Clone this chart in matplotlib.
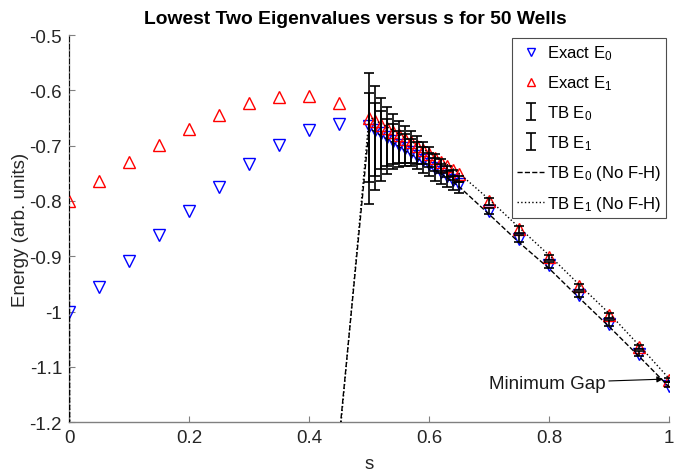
import matplotlib
matplotlib.use('Agg')
from matplotlib import pyplot as plt
import numpy as np

plt.rcParams['font.family'] = ['Liberation Sans', 'DejaVu Sans']
plt.rcParams['mathtext.fontset'] = 'custom'
plt.rcParams['mathtext.rm'] = 'Liberation Sans'
plt.rcParams['mathtext.default'] = 'regular'
plt.rcParams['axes.unicode_minus'] = False

# s grid: coarse, dense near 0.5-0.65, coarse again
s = [0.00, 0.05, 0.10, 0.15, 0.20, 0.25, 0.30, 0.35, 0.40, 0.45,
     0.50, 0.51, 0.52, 0.53, 0.54, 0.55, 0.56, 0.57, 0.58, 0.59,
     0.60, 0.61, 0.62, 0.63, 0.64, 0.65,
     0.70, 0.75, 0.80, 0.85, 0.90, 0.95, 1.00]

exact_e0 = [-1.000, -0.955, -0.908, -0.862, -0.818, -0.774, -0.733, -0.698, -0.672, -0.660,
            -0.665, -0.671, -0.678, -0.684, -0.691, -0.698, -0.705, -0.712, -0.719, -0.726,
            -0.733, -0.740, -0.747, -0.754, -0.762, -0.770,
            -0.818, -0.869, -0.916, -0.970, -1.022, -1.077, -1.134]
exact_e1 = [-0.800, -0.764, -0.730, -0.699, -0.669, -0.644, -0.623, -0.612, -0.611, -0.622,
            -0.650, -0.656, -0.662, -0.668, -0.675, -0.681, -0.688, -0.694, -0.701, -0.708,
            -0.715, -0.722, -0.729, -0.736, -0.744, -0.752,
            -0.800, -0.851, -0.901, -0.954, -1.006, -1.064, -1.124]

# tight-binding results (only s >= 0.5)
s_tb = s[10:]
tb_e0 = [-0.705, -0.701, -0.700, -0.702, -0.702, -0.706, -0.708, -0.712, -0.718, -0.726,
         -0.734, -0.743, -0.751, -0.760, -0.768, -0.776,
         -0.818, -0.868, -0.916, -0.969, -1.021, -1.076, -1.132]
tb_e0_err = [0.100, 0.079, 0.063, 0.050, 0.041, 0.033, 0.029, 0.024, 0.024, 0.023,
             0.021, 0.020, 0.018, 0.015, 0.013, 0.010,
             0.006, 0.006, 0.005, 0.005, 0.005, 0.004, 0.004]
tb_e1 = [-0.667, -0.674, -0.678, -0.684, -0.688, -0.693, -0.698, -0.702, -0.708, -0.713,
         -0.720, -0.730, -0.737, -0.746, -0.753, -0.760,
         -0.801, -0.852, -0.902, -0.955, -1.007, -1.064, -1.124]
tb_e1_err = [0.098, 0.081, 0.065, 0.053, 0.045, 0.038, 0.033, 0.029, 0.025, 0.020,
             0.018, 0.015, 0.013, 0.010, 0.009, 0.006,
             0.006, 0.006, 0.005, 0.005, 0.005, 0.004, 0.004]

# tight-binding without F-H correction (blows up for s < 0.5)
nofh_e0 = [-0.45, -40.0, -25.0, -15.0, -9.0, -6.0, -4.0, -2.6, -1.8, -1.23,
           -0.669, -0.675, -0.682, -0.688, -0.695, -0.702, -0.709, -0.716, -0.723, -0.730,
           -0.737, -0.744, -0.751, -0.758, -0.766, -0.774,
           -0.824, -0.875, -0.922, -0.975, -1.027, -1.081, -1.136]
nofh_e1 = [-0.45, -42.0, -26.0, -16.0, -9.5, -6.2, -4.1, -2.7, -1.85, -1.24,
           -0.648, -0.654, -0.660, -0.666, -0.673, -0.679, -0.686, -0.692, -0.699, -0.706,
           -0.713, -0.720, -0.727, -0.734, -0.742, -0.750,
           -0.797, -0.848, -0.898, -0.951, -1.003, -1.061, -1.121]

fig = plt.figure(figsize=(6.8, 4.77), dpi=100)
ax = fig.add_axes([0.1015, 0.1126, 0.8825, 0.8119])

h0, = ax.plot(s, exact_e0, 'v', color='blue', mfc='none', ms=8.5, mew=1.0)
h1, = ax.plot(s, exact_e1, '^', color='red', mfc='none', ms=8.5, mew=1.0)
h2 = ax.errorbar(s_tb, tb_e0, yerr=tb_e0_err, fmt='none', ecolor='black', elinewidth=1.2,
                 capsize=3.5, capthick=1.2)
h3 = ax.errorbar(s_tb, tb_e1, yerr=tb_e1_err, fmt='none', ecolor='black', elinewidth=1.2,
                 capsize=3.5, capthick=1.2)
h4, = ax.plot(s, nofh_e0, '--', color='black', lw=1.0, zorder=3)
h5, = ax.plot(s, nofh_e1, ':', color='black', lw=1.0, zorder=3)

ax.annotate('Minimum Gap', xy=(0.99, -1.122), xytext=(0.895, -1.129),
            ha='right', va='center', fontsize=13.5, color='0.1',
            arrowprops=dict(arrowstyle='-|>', color='black', lw=0.8, mutation_scale=9,
                            shrinkA=0, shrinkB=0))

ax.set_xlim(0, 1)
ax.set_ylim(-1.2, -0.5)
ax.set_xticks([0, 0.2, 0.4, 0.6, 0.8, 1])
ax.set_xticklabels(['0', '0.2', '0.4', '0.6', '0.8', '1'])
ax.set_yticks([-1.2, -1.1, -1.0, -0.9, -0.8, -0.7, -0.6, -0.5])
ax.set_yticklabels(['-1.2', '-1.1', '-1', '-0.9', '-0.8', '-0.7', '-0.6', '-0.5'])

for side in ['top', 'right']:
    ax.spines[side].set_visible(False)
for side in ['left', 'bottom']:
    ax.spines[side].set_color('0.5')
    ax.spines[side].set_linewidth(1.0)
    ax.spines[side].set_zorder(1)
ax.tick_params(direction='in', length=4, width=0.8, color='0.5', labelsize=13.5,
               labelcolor='0.15', pad=5)

ax.set_xlabel('s', fontsize=13.5, color='0.15', labelpad=6)
ax.set_ylabel('Energy (arb. units)', fontsize=13.5, color='0.15', labelpad=0)
ax.set_title('Lowest Two Eigenvalues versus s for 50 Wells', fontsize=13.9,
             fontweight='bold', x=0.4775, pad=9)

leg = ax.legend([h0, h1, h2, h3, h4, h5],
                ['Exact E$_0$', 'Exact E$_1$', 'TB E$_0$', 'TB E$_1$',
                 'TB E$_0$ (No F-H)', 'TB E$_1$ (No F-H)'],
                loc='upper right', fontsize=12, numpoints=1, markerscale=0.6,
                fancybox=False, framealpha=1, edgecolor='0.3', borderaxespad=0.2,
                handlelength=1.6, handletextpad=0.15, labelspacing=0.68, borderpad=0.3)
leg.get_frame().set_linewidth(0.8)

fig.savefig('out.png', dpi=100)
